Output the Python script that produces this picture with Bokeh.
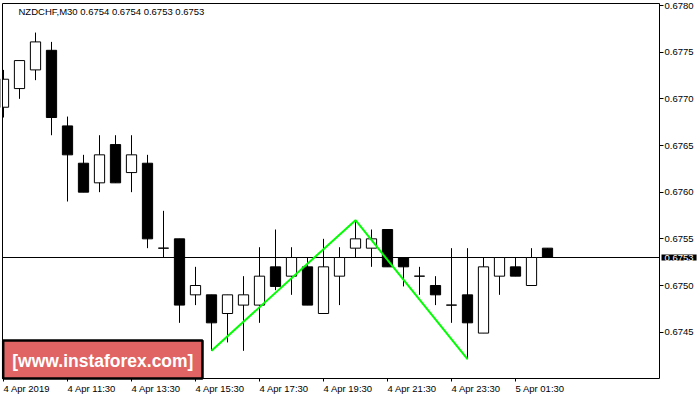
from bokeh.plotting import figure
from bokeh.models import (Range1d, FixedTicker, Label, BoxAnnotation,
                          NumeralTickFormatter, ColumnDataSource)
from bokeh.embed import file_html
from bokeh.resources import INLINE

# ---------------- data ----------------
title_text = "NZDCHF,M30  0.6754 0.6754 0.6753 0.6753"
watermark_text = "[www.instaforex.com]"

opens  = [0.67691, 0.67711, 0.67731, 0.67752, 0.67671, 0.67631, 0.67610, 0.67651,
          0.67621, 0.67631, 0.67540, 0.67550, 0.67490, 0.67490, 0.67470, 0.67479,
          0.67479, 0.67520, 0.67510, 0.67520, 0.67470, 0.67510, 0.67540, 0.67540,
          0.67560, 0.67530, 0.67510, 0.67500, 0.67479, 0.67490, 0.67449, 0.67510,
          0.67520, 0.67500, 0.67540]
highs  = [0.67731, 0.67741, 0.67771, 0.67761, 0.67681, 0.67640, 0.67661, 0.67661,
          0.67661, 0.67640, 0.67580, 0.67550, 0.67520, 0.67490, 0.67490, 0.67510,
          0.67541, 0.67560, 0.67541, 0.67530, 0.67550, 0.67541, 0.67570, 0.67560,
          0.67560, 0.67530, 0.67520, 0.67510, 0.67540, 0.67540, 0.67530, 0.67530,
          0.67530, 0.67540, 0.67540]
lows   = [0.67680, 0.67700, 0.67720, 0.67661, 0.67590, 0.67600, 0.67600, 0.67610,
          0.67600, 0.67540, 0.67530, 0.67460, 0.67479, 0.67430, 0.67439, 0.67430,
          0.67460, 0.67495, 0.67490, 0.67479, 0.67470, 0.67479, 0.67530, 0.67520,
          0.67520, 0.67499, 0.67490, 0.67479, 0.67460, 0.67421, 0.67449, 0.67490,
          0.67510, 0.67500, 0.67530]
closes = [0.67721, 0.67741, 0.67761, 0.67680, 0.67640, 0.67600, 0.67640, 0.67610,
          0.67640, 0.67550, 0.67540, 0.67479, 0.67500, 0.67460, 0.67490, 0.67490,
          0.67510, 0.67499, 0.67530, 0.67479, 0.67520, 0.67530, 0.67550, 0.67550,
          0.67520, 0.67520, 0.67510, 0.67490, 0.67479, 0.67460, 0.67520, 0.67530,
          0.67510, 0.67530, 0.67530]

time_tick_bars = [0, 4, 8, 12, 16, 20, 24, 28, 32]
time_tick_labels = ["4 Apr 2019", "4 Apr 11:30", "4 Apr 13:30", "4 Apr 15:30",
                    "4 Apr 17:30", "4 Apr 19:30", "4 Apr 21:30", "4 Apr 23:30",
                    "5 Apr 01:30"]
price_ticks = [0.6745, 0.6750, 0.6755, 0.6760, 0.6765, 0.6770, 0.6775, 0.6780]
last_price = 0.6753

pattern_bars = [13, 22, 29]
pattern_prices = [0.67430, 0.67570, 0.67421]

# ---------------- layout (page pixels -> data) ----------------
W, H = 700, 400
BAR_PX = 16.0            # pixels per bar
FIRST_BAR_PX = 3.0       # page x of bar 0
PRICE_PX = 93333.3       # pixels per 1.0 of price
REF_PRICE, REF_PRICE_PX = 0.6750, 285.0


def bar_at(px):
    return (px - FIRST_BAR_PX) / BAR_PX


def price_at(py):
    return REF_PRICE + (REF_PRICE_PX - py) / PRICE_PX


x_start, x_end = bar_at(0), bar_at(W)
y_start, y_end = price_at(H), price_at(0)
plot_x0, plot_x1 = bar_at(2), bar_at(659)
plot_y0, plot_y1 = price_at(378), price_at(3)

FONT = "Liberation Sans"
FS = "9.5px"

p = figure(width=W, height=H, output_backend="svg", toolbar_location=None,
           x_range=Range1d(x_start, x_end), y_range=Range1d(y_start, y_end),
           y_axis_location="right",
           min_border=0, min_border_left=0, min_border_right=0,
           min_border_top=0, min_border_bottom=0)
p.background_fill_color = "white"
p.border_fill_color = "white"
p.outline_line_color = None
p.grid.visible = False

# x axis (ticks only), fixed at the bottom border of the chart
p.xaxis.fixed_location = plot_y0
p.xaxis.bounds = (plot_x0, plot_x1)
p.xaxis.ticker = FixedTicker(ticks=time_tick_bars)
p.xaxis.major_label_overrides = {b: "" for b in time_tick_bars}
p.xaxis.major_label_text_font = FONT
p.xaxis.major_label_text_font_size = FS
p.xaxis.axis_line_color = None
p.xaxis.major_tick_line_color = "black"
p.xaxis.major_tick_out = 3
p.xaxis.major_tick_in = 0
p.xaxis.minor_tick_line_color = None

# y axis (price scale), fixed at the right border of the chart
p.yaxis.fixed_location = plot_x1
p.yaxis.bounds = (plot_y0, plot_y1)
p.yaxis.ticker = FixedTicker(ticks=price_ticks)
p.yaxis.formatter = NumeralTickFormatter(format="0.0000")
p.yaxis.axis_line_color = None
p.yaxis.major_tick_line_color = "black"
p.yaxis.major_tick_out = 4
p.yaxis.major_tick_in = 0
p.yaxis.minor_tick_line_color = None
p.yaxis.major_label_standoff = 1
p.yaxis.major_label_text_font = FONT
p.yaxis.major_label_text_font_size = FS
p.yaxis.major_label_text_color = "black"

# current price line
p.line([plot_x0, plot_x1], [last_price, last_price], line_color="black", line_width=1)

# candles
idx = list(range(len(opens)))
src = ColumnDataSource(dict(
    x=idx, o=opens, h=highs, l=lows, c=closes,
    top=[max(a, b) for a, b in zip(opens, closes)],
    bottom=[min(a, b) for a, b in zip(opens, closes)],
    fill=["white" if c >= o else "black" for o, c in zip(opens, closes)],
))
p.segment(x0="x", y0="l", x1="x", y1="h", line_color="black", line_width=1, source=src)
p.vbar(x="x", width=0.64, top="top", bottom="bottom", fill_color="fill",
       line_color="black", line_width=1, source=src)

# pattern line
p.line(pattern_bars, pattern_prices, line_color="#00FF00", line_width=2)

# mask left of the chart border and the chart border itself
p.add_layout(BoxAnnotation(left=x_start, right=plot_x0, bottom=y_start, top=y_end,
                           fill_color="white", fill_alpha=1.0, line_color=None))
p.add_layout(BoxAnnotation(left=plot_x0, right=plot_x1, bottom=plot_y0, top=plot_y1,
                           fill_alpha=0.0, line_color="black", line_width=1,
                           line_alpha=1.0))

# time labels (left aligned at their ticks)
for b, t in zip(time_tick_bars, time_tick_labels):
    p.add_layout(Label(x=b, y=price_at(382.5), text=t, text_align="left",
                       text_baseline="top", text_font=FONT, text_font_size=FS,
                       text_color="black"))

# title
p.add_layout(Label(x=bar_at(18), y=price_at(10.5), text=title_text, text_align="left",
                   text_baseline="middle", text_font=FONT, text_font_size=FS,
                   text_color="black"))

# last price box
p.add_layout(Label(x=bar_at(661), y=last_price, text=f"{last_price:.4f}",
                   text_align="left", text_baseline="middle", text_font=FONT,
                   text_font_size=FS, text_color="white",
                   background_fill_color="black", background_fill_alpha=1.0,
                   padding=(3, 0)))

# watermark
wm_left, wm_right = bar_at(2.7), bar_at(202)
wm_bottom, wm_top = price_at(378), price_at(340)
p.add_layout(BoxAnnotation(left=wm_left, right=wm_right, bottom=wm_bottom, top=wm_top,
                           fill_color="#E06464", fill_alpha=1.0,
                           line_color="black", line_width=2.5, line_alpha=1.0))
p.add_layout(Label(x=(wm_left + wm_right) / 2, y=price_at(360), text=watermark_text,
                   text_align="center", text_baseline="middle",
                   text_font=FONT, text_font_style="bold",
                   text_font_size="17.5px", text_color="white"))

open("out.html", "w").write(file_html(p, INLINE))
